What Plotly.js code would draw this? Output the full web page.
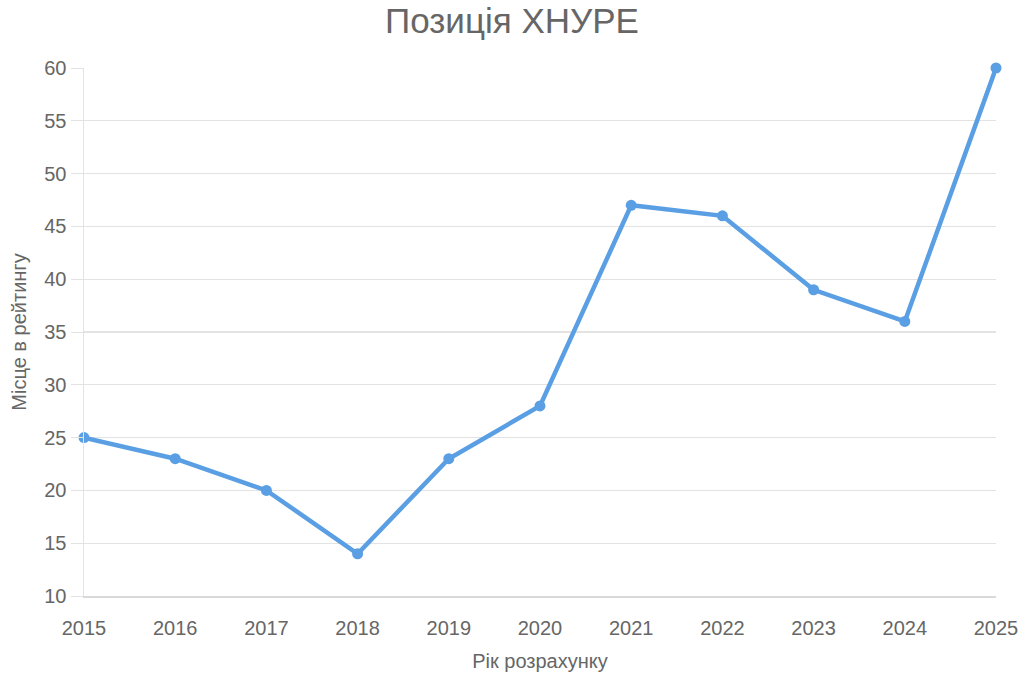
<!DOCTYPE html>
<html>
<head>
<meta charset="utf-8">
<script src="https://cdn.plot.ly/plotly-3.0.1.min.js"></script>
<style>
  html, body { margin: 0; padding: 0; background: #fff; }
  #plot { width: 1024px; height: 683px; }
</style>
</head>
<body>
<div id="plot"></div>
<script>
// рейтинг ХНУРЕ по роках
const years = [2015, 2016, 2017, 2018, 2019, 2020, 2021, 2022, 2023, 2024, 2025];
const places = [25, 23, 20, 14, 23, 28, 47, 46, 39, 36, 60];
const yTicks = [10, 15, 20, 25, 30, 35, 40, 45, 50, 55, 60];

const trace = {
    x: years,
    y: places,
    type: 'scatter',
    mode: 'lines+markers',
    line: { color: '#5A9FE3', width: 4.5 },
    marker: { color: '#5A9FE3', size: 11 },
    cliponaxis: false,
    showlegend: false
};

const layout = {
    width: 1024,
    height: 683,
    margin: { l: 84, r: 28, t: 68, b: 87 },
    paper_bgcolor: '#fff',
    plot_bgcolor: '#fff',
    font: { family: 'Liberation Sans, Arial, sans-serif', color: '#666' },
    title: {
        text: 'Позиція ХНУРЕ',
        font: { size: 35, color: '#666' },
        x: 0.5,
        xanchor: 'center',
        y: 0.97,
        yanchor: 'middle'
    },
    xaxis: {
        range: [2015, 2025],
        tickvals: years,
        ticktext: years.map(String),
        showgrid: false,
        zeroline: false,
        showline: true,
        linecolor: '#d9d9d9',
        linewidth: 1.5,
        ticks: 'outside',
        ticklen: 13,
        tickcolor: 'rgba(0,0,0,0)',
        tickfont: { size: 20, color: '#666' },
        title: { text: 'Рік розрахунку', font: { size: 20, color: '#666' }, standoff: 16 }
    },
    yaxis: {
        range: [10, 60],
        tickvals: yTicks,
        showgrid: true,
        gridcolor: '#e3e3e3',
        gridwidth: 1.2,
        zeroline: false,
        showline: true,
        linecolor: '#e3e3e3',
        linewidth: 1.5,
        ticks: 'outside',
        ticklen: 12,
        tickcolor: '#e3e3e3',
        tickfont: { size: 20, color: '#666' },
        title: { text: 'Місце в рейтингу', font: { size: 20, color: '#666' }, standoff: 12 }
    }
};

Plotly.newPlot('plot', [trace], layout, { displayModeBar: false, staticPlot: true });
</script>
</body>
</html>
